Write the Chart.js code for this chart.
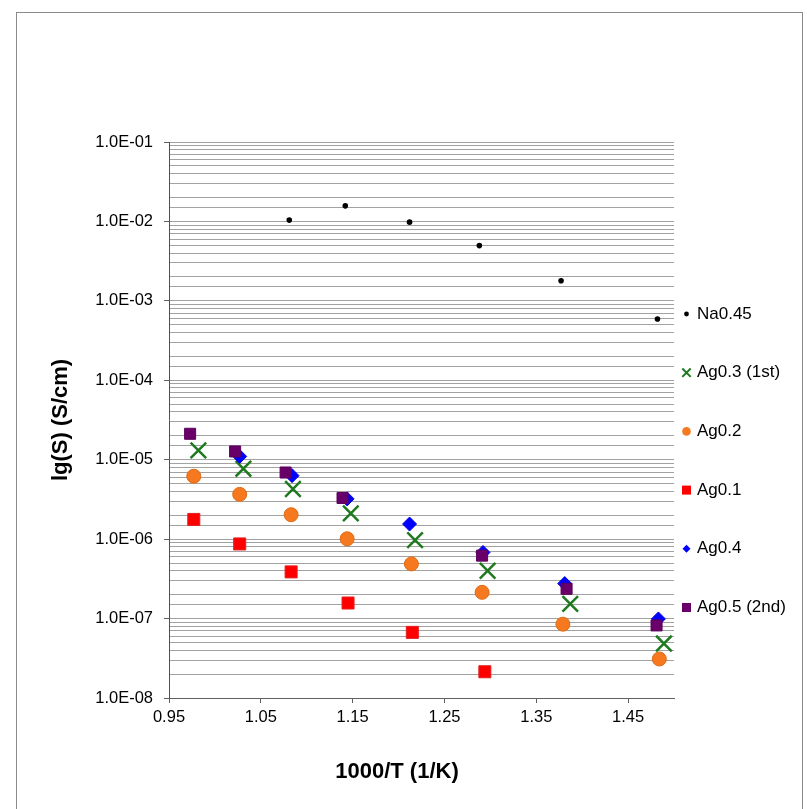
<!DOCTYPE html>
<html>
<head>
<meta charset="utf-8">
<script src="https://cdn.jsdelivr.net/npm/chart.js@4.4.0/dist/chart.umd.min.js"></script>
<style>
html,body{margin:0;padding:0;background:#fff;}
#wrap{position:relative;width:807px;height:809px;overflow:hidden;}
#frame{position:absolute;left:16px;top:12px;width:787px;height:830px;border:1px solid #8a8a8a;box-sizing:border-box;}
#c{position:absolute;left:0;top:0;}
</style>
</head>
<body>
<div id="wrap"><div id="frame"></div><canvas id="c" width="807" height="809"></canvas></div>
<script>
// ---- data ----
const seriesNames = ['Na0.45', 'Ag0.3 (1st)', 'Ag0.2', 'Ag0.1', 'Ag0.4', 'Ag0.5 (2nd)'];

const na045X = [1.081, 1.142, 1.212, 1.288, 1.377, 1.482];
const na045Y = [1.04e-2, 1.57e-2, 9.8e-3, 4.96e-3, 1.79e-3, 5.9e-4];

const ag03X = [0.982, 1.031, 1.085, 1.148, 1.218, 1.297, 1.387, 1.489];
const ag03Y = [1.31e-5, 7.7e-6, 4.28e-6, 2.11e-6, 9.7e-7, 4.0e-7, 1.53e-7, 4.85e-8];

const ag02X = [0.977, 1.027, 1.083, 1.144, 1.214, 1.291, 1.379, 1.484];
const ag02Y = [6.2e-6, 3.66e-6, 2.03e-6, 1.01e-6, 4.88e-7, 2.14e-7, 8.5e-8, 3.1e-8];

const ag01X = [0.977, 1.027, 1.083, 1.145, 1.215, 1.294];
const ag01Y = [1.77e-6, 8.7e-7, 3.87e-7, 1.57e-7, 6.7e-8, 2.14e-8];

const ag04X = [1.027, 1.084, 1.144, 1.212, 1.292, 1.381, 1.483];
const ag04Y = [1.10e-5, 6.3e-6, 3.21e-6, 1.55e-6, 6.8e-7, 2.76e-7, 9.9e-8];

const ag05X = [0.973, 1.022, 1.077, 1.139, 1.291, 1.383, 1.481];
const ag05Y = [2.12e-5, 1.27e-5, 6.9e-6, 3.3e-6, 6.2e-7, 2.37e-7, 8.2e-8];

const xTicks = [0.95, 1.05, 1.15, 1.25, 1.35, 1.45];
const xTickLabels = ['0.95', '1.05', '1.15', '1.25', '1.35', '1.45'];
const yTickLabels = ['1.0E-08', '1.0E-07', '1.0E-06', '1.0E-05', '1.0E-04', '1.0E-03', '1.0E-02', '1.0E-01'];

const xTitle = '1000/T (1/K)';
const yTitle = 'lg(S) (S/cm)';

// ---- styling ----
const FONT = '"Liberation Sans", Arial, sans-serif';
const toPts = (xs, ys) => xs.map((x, i) => ({x: x, y: ys[i]}));

const styles = [
  {style: 'circle',   r: 2.8, bg: '#000000', bd: '#000000', bw: 0,   order: 5},
  {style: 'crossRot', r: 11,  bg: '#1f7a1f', bd: '#1f7a1f', bw: 2.5, order: 4},
  {style: 'circle',   r: 7,   bg: '#f7791f', bd: '#dd6a14', bw: 1,   order: 3},
  {style: 'rect',     r: 8.5, bg: '#ff0000', bd: '#e61e1e', bw: 1,   order: 2},
  {style: 'rectRot',  r: 7,   bg: '#0000ff', bd: '#0000e6', bw: 1,   order: 1},
  {style: 'rect',     r: 7.8, bg: '#690069', bd: '#5c005c', bw: 1,   order: 0}
];
const seriesData = [
  toPts(na045X, na045Y), toPts(ag03X, ag03Y), toPts(ag02X, ag02Y),
  toPts(ag01X, ag01Y), toPts(ag04X, ag04Y), toPts(ag05X, ag05Y)
];

const datasets = seriesNames.map((name, i) => ({
  label: name,
  data: seriesData[i],
  showLine: false,
  pointStyle: styles[i].style,
  pointRadius: styles[i].r,
  pointHoverRadius: styles[i].r,
  pointBackgroundColor: styles[i].bg,
  pointBorderColor: styles[i].bd,
  pointBorderWidth: styles[i].bw,
  order: styles[i].order
}));

// legend marker drawing (legend is drawn by a small plugin)
const legendMarkers = [
  {type: 'dot', color: '#000000', s: 2.4},
  {type: 'x', color: '#1f7a1f', s: 4.2},
  {type: 'circle', color: '#f7791f', s: 4.3},
  {type: 'square', color: '#ff0000', s: 4.5},
  {type: 'diamond', color: '#0000ff', s: 4},
  {type: 'square', color: '#690069', s: 4.5}
];
const legendTop = 314, legendGap = 58.7, legendMarkerX = 686.5, legendTextX = 697;

function drawMarker(ctx, m, x, y) {
  ctx.save();
  ctx.fillStyle = m.color; ctx.strokeStyle = m.color;
  ctx.beginPath();
  if (m.type === 'dot' || m.type === 'circle') {
    ctx.arc(x, y, m.s, 0, Math.PI * 2); ctx.fill();
  } else if (m.type === 'square') {
    ctx.fillRect(x - m.s, y - m.s, 2 * m.s, 2 * m.s);
  } else if (m.type === 'diamond') {
    ctx.moveTo(x, y - m.s); ctx.lineTo(x + m.s, y); ctx.lineTo(x, y + m.s); ctx.lineTo(x - m.s, y); ctx.closePath(); ctx.fill();
  } else if (m.type === 'x') {
    ctx.lineWidth = 2;
    ctx.moveTo(x - m.s, y - m.s); ctx.lineTo(x + m.s, y + m.s);
    ctx.moveTo(x - m.s, y + m.s); ctx.lineTo(x + m.s, y - m.s);
    ctx.stroke();
  }
  ctx.restore();
}

const extrasPlugin = {
  id: 'extras',
  afterDraw(chart) {
    const ctx = chart.ctx;
    ctx.save();
    ctx.font = '17px ' + FONT;
    ctx.textBaseline = 'middle';
    ctx.textAlign = 'left';
    chart.data.datasets.forEach((ds, i) => {
      const y = legendTop + i * legendGap;
      drawMarker(ctx, legendMarkers[i], legendMarkerX, y);
      ctx.fillStyle = '#000';
      ctx.fillText(ds.label, legendTextX, y);
    });
    ctx.font = 'bold 22px ' + FONT;
    ctx.textAlign = 'center';
    ctx.fillStyle = '#000';
    ctx.fillText(xTitle, 397, 772);
    ctx.restore();
  }
};

function isDecade(v) {
  const e = Math.log10(v);
  return Math.abs(e - Math.round(e)) < 1e-6;
}

new Chart(document.getElementById('c'), {
  type: 'scatter',
  data: {datasets: datasets},
  options: {
    responsive: false,
    animation: false,
    events: [],
    layout: {padding: {left: 0, right: 133, top: 142, bottom: 0}},
    plugins: {legend: {display: false}, tooltip: {enabled: false}},
    scales: {
      x: {
        type: 'linear',
        min: 0.95, max: 1.5,
        afterBuildTicks: (s) => { s.ticks = xTicks.map(v => ({value: v})); },
        afterFit: (s) => { s.height = 111; },
        ticks: {
          autoSkip: false, maxRotation: 0, padding: 5,
          color: '#000', font: {family: FONT, size: 16.5},
          callback: (v, i) => xTickLabels[i]
        },
        grid: {drawOnChartArea: false, drawTicks: true, tickLength: 5, color: '#606060', tickColor: '#606060'},
        border: {display: true, color: '#606060', width: 1}
      },
      y: {
        type: 'logarithmic',
        min: 1e-8, max: 1e-1,
        afterFit: (s) => { s.width = 169; },
        ticks: {
          autoSkip: false, padding: 11,
          color: '#000', font: {family: FONT, size: 16.5},
          callback: (v) => {
            if (!isDecade(v)) return '';
            return yTickLabels[Math.round(Math.log10(v)) + 8];
          }
        },
        grid: {
          color: '#a2a2a2', lineWidth: 1, tickLength: 5,
          tickColor: (c) => (c.tick && isDecade(c.tick.value)) ? '#606060' : 'rgba(0,0,0,0)'
        },
        border: {display: true, color: '#505050', width: 1},
        title: {
          display: true, text: yTitle, color: '#000',
          font: {family: FONT, size: 22, weight: 'bold'},
          padding: {top: 48, bottom: 0}
        }
      }
    }
  },
  plugins: [extrasPlugin]
});
</script>
</body>
</html>
